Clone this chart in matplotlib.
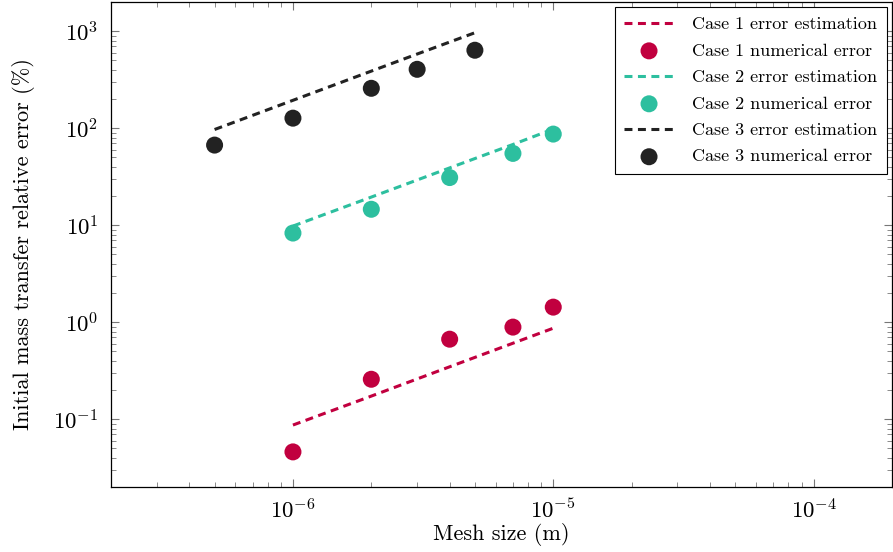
import numpy as np
import matplotlib
matplotlib.use('Agg')
import matplotlib.pyplot as plt
from matplotlib.ticker import LogLocator, NullFormatter

plt.rcParams['font.family'] = 'serif'
plt.rcParams['font.serif'] = ['cmr10', 'DejaVu Serif']
plt.rcParams['mathtext.fontset'] = 'cm'
plt.rcParams['axes.formatter.use_mathtext'] = True

# mesh sizes (m) and errors (%)
h1 = [1e-6, 2e-6, 4e-6, 7e-6, 1e-5]
num1 = [0.046, 0.258, 0.668, 0.89, 1.43]
est1 = [0.087, 0.173, 0.347, 0.607, 0.867]

h2 = [1e-6, 2e-6, 4e-6, 7e-6, 1e-5]
num2 = [8.3, 14.6, 31.0, 55.0, 87.0]
est2 = [9.8, 19.5, 39.0, 68.0, 98.0]

h3 = [5e-7, 1e-6, 2e-6, 3e-6, 5e-6]
num3 = [67.0, 127.0, 258.0, 405.0, 637.0]
est3 = [97.0, 194.0, 388.0, 582.0, 965.0]

colors = ['#C1003F', '#2DBF9F', '#222222']

fig = plt.figure(figsize=(8.93, 5.52), dpi=100)
ax = fig.add_axes([0.1243, 0.1178, 0.8745, 0.8785])

series = [(h1, est1, num1), (h2, est2, num2), (h3, est3, num3)]
for i, (h, est, num) in enumerate(series):
    ax.plot(h, est, linestyle=(0, (2.6, 1.8)), color=colors[i], linewidth=2.2,
            label='Case %d error estimation' % (i + 1))
    ax.scatter(h, num, s=150, color=colors[i], edgecolors='none', zorder=3,
               label='Case %d numerical error' % (i + 1))

ax.set_xscale('log')
ax.set_yscale('log')
ax.set_xlim(2e-7, 2e-4)
ax.set_ylim(2e-2, 2e3)

ax.xaxis.set_major_locator(LogLocator(base=10, numticks=10))
ax.yaxis.set_major_locator(LogLocator(base=10, numticks=10))
ax.xaxis.set_minor_locator(LogLocator(base=10, subs=np.arange(2, 10), numticks=20))
ax.yaxis.set_minor_locator(LogLocator(base=10, subs=np.arange(2, 10), numticks=20))
ax.xaxis.set_minor_formatter(NullFormatter())
ax.yaxis.set_minor_formatter(NullFormatter())

ax.tick_params(which='both', direction='in', top=True, right=True, color='#777777')
ax.tick_params(which='major', length=6, width=0.8, labelsize=16.5)
ax.tick_params(which='minor', length=3.5, width=0.6)
ax.tick_params(axis='x', pad=8)
ax.tick_params(axis='y', pad=9)
for sp in ax.spines.values():
    sp.set_linewidth(0.9)

ax.set_xlabel('Mesh size (m)', fontsize=16, labelpad=0)
ax.set_ylabel('Initial mass transfer relative error (%)', fontsize=16, labelpad=13)

leg = ax.legend(loc='upper right', fontsize=13, frameon=True, fancybox=False,
                edgecolor='black', framealpha=1, borderaxespad=0.3,
                handlelength=2.8, labelspacing=0.6, borderpad=0.5,
                handletextpad=1.0)
leg.get_frame().set_linewidth(0.8)

fig.savefig('out.png', dpi=100)
